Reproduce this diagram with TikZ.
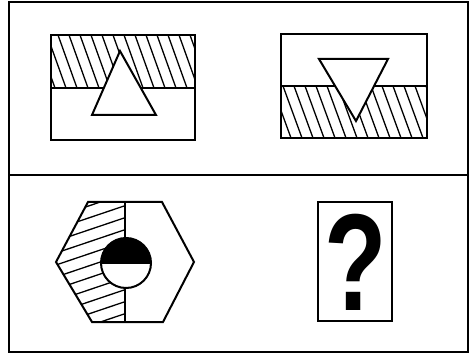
\documentclass[tikz,border=0pt]{standalone}
\usepackage{fontspec}
\newfontfamily\qfont{Liberation Sans}
\begin{document}
\begin{tikzpicture}[x=1pt,y=-1pt,
  shape line/.style={line width=2pt, line join=miter},
  hatch/.style={line width=1.3pt}]
\useasboundingbox (0,0) rectangle (471,355);
% outer frame and divider
\draw[line width=2pt] (9,2) rectangle (468,352);
\draw[line width=2pt] (9,175) -- (468,175);
% panel 1
\begin{scope}
  \clip (51,35) rectangle (195,88);
  \foreach \i in {-30,-19,...,200} \draw[hatch] (\i,35) -- ++(19,53);
\end{scope}
\draw[shape line] (51,35) rectangle (195,140);
\draw[shape line] (51,88) -- (195,88);
\draw[shape line, fill=white] (120,51) -- (156,115) -- (92,115) -- cycle;
% panel 2
\begin{scope}
  \clip (281,86) rectangle (427,138);
  \foreach \i in {250,261,...,440} \draw[hatch] (\i,86) -- ++(19,52);
\end{scope}
\draw[shape line] (281,34) rectangle (427,138);
\draw[shape line] (281,86) -- (427,86);
\draw[shape line, fill=white] (319,59) -- (388,59) -- (356,121) -- cycle;
% hexagon
\begin{scope}
  \clip (88,202) -- (125,202) -- (125,322) -- (92,322) -- (56,262) -- cycle;
  \foreach \i in {195,207,...,370} \draw[hatch] (50,\i) -- ++(80,-27);
\end{scope}
\draw[shape line] (88,202) -- (162,202) -- (194,262) -- (163,322) -- (92,322) -- (56,262) -- cycle;
\draw[shape line] (125,202) -- (125,322);
\fill[white] (126,263) circle[radius=25pt];
\begin{scope}
  \clip (95,230) rectangle (160,263);
  \fill (126,263) circle[radius=25pt];
\end{scope}
\draw[shape line] (101,263) -- (151,263);
\draw[shape line] (126,263) circle[radius=25pt];
% question box
\draw[shape line] (318,202) rectangle (392,321);
\node[font=\qfont\bfseries\fontsize{138}{138}\selectfont, xscale=0.74, inner sep=0] (q) at (356,262) {?};
\end{tikzpicture}
\end{document}
